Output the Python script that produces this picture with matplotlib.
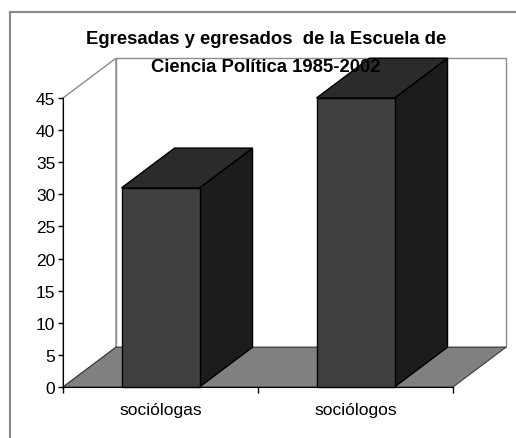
import matplotlib
matplotlib.use("Agg")
import matplotlib.pyplot as plt
from matplotlib.patches import Polygon, Rectangle
from matplotlib.lines import Line2D

plt.rcParams['font.family'] = ['Liberation Sans', 'DejaVu Sans']

# data
categories = ["sociólogas", "sociólogos"]
values = [31, 45]
y_ticks = list(range(0, 50, 5))
title = "Egresadas y egresados  de la Escuela de\nCiencia Política 1985-2002"

# oblique 3d look (in data units)
DX = 0.272   # depth shift along x (category units)
DY = 6.2     # depth shift along y (value units)
BAR_W = 0.4
YMAX = 45

fig = plt.figure(figsize=(5.16, 4.39), dpi=100)
ax = fig.add_axes([63 / 516, 51 / 439, 390 / 516, 289 / 439])
ax.set_xlim(0, len(categories))
ax.set_ylim(0, YMAX)
ax.patch.set_visible(False)

wall_c = "#8c8c8c"
# left wall + back wall outlines
ax.add_patch(Polygon([(0, 0), (DX, DY), (DX, YMAX + DY), (0, YMAX)], closed=True,
                     facecolor="white", edgecolor=wall_c, lw=1, clip_on=False, zorder=1))
ax.add_patch(Rectangle((DX, DY), len(categories), YMAX, facecolor="white",
                       edgecolor=wall_c, lw=1, clip_on=False, zorder=1))
# floor
n = len(categories)
ax.add_patch(Polygon([(0, 0), (n, 0), (n + DX, DY), (DX, DY)], closed=True,
                     facecolor="#808080", edgecolor="#3a3a3a", lw=0.8, clip_on=False, zorder=2))

# bars
for i, v in enumerate(values):
    x0 = i + 0.5 - BAR_W / 2
    x1 = x0 + BAR_W
    kw = dict(closed=True, edgecolor="black", lw=1, clip_on=False, zorder=5, joinstyle="miter")
    ax.add_patch(Polygon([(x1, 0), (x1 + DX, DY), (x1 + DX, v + DY), (x1, v)],
                         facecolor="#1c1c1c", **kw))
    ax.add_patch(Polygon([(x0, v), (x1, v), (x1 + DX, v + DY), (x0 + DX, v + DY)],
                         facecolor="#2b2b2b", **kw))
    ax.add_patch(Polygon([(x0, 0), (x1, 0), (x1, v), (x0, v)],
                         facecolor="#404040", **kw))

# axes
for s in ["top", "right"]:
    ax.spines[s].set_visible(False)
ax.spines["left"].set_color("black")
ax.spines["bottom"].set_color("black")
ax.spines["left"].set_zorder(6)
ax.spines["bottom"].set_zorder(6)
ax.set_yticks(y_ticks)
ax.tick_params(axis="y", direction="out", length=3.5, width=1, pad=2, labelsize=12.5)
ax.set_xticks(range(n + 1))
ax.set_xticklabels([])
ax.tick_params(axis="x", which="major", direction="out", length=4, width=1)
ax.set_xticks([i + 0.5 for i in range(n)], minor=True)
ax.set_xticklabels(categories, minor=True)
ax.tick_params(axis="x", which="minor", length=0, pad=11, labelsize=12.5)

# title (drawn over everything, as in the original)
ax.text(0.52, 1.157, title, transform=ax.transAxes, ha="center", va="center",
        fontsize=13.3, fontweight="bold", linespacing=1.87, zorder=7, clip_on=False)

# chart-area frame (top and left edges visible)
fig.add_artist(Line2D([10 / 516, 1], [1 - 13 / 439, 1 - 13 / 439], color="#8a8a8a", lw=1.5))
fig.add_artist(Line2D([10 / 516, 10 / 516], [0, 1 - 13 / 439], color="#8a8a8a", lw=1.5))

fig.savefig("out.png", dpi=100)
